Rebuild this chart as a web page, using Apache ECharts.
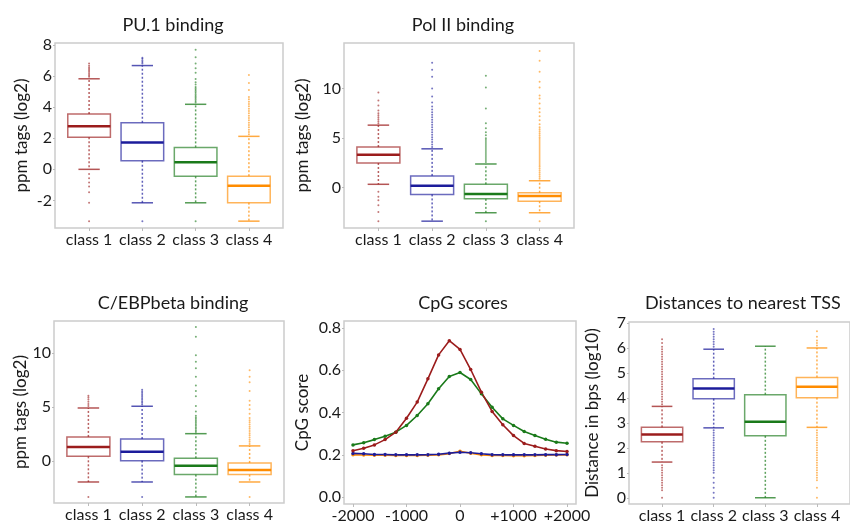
<!DOCTYPE html>
<html>
<head>
<meta charset="utf-8">
<script src="https://cdn.jsdelivr.net/npm/echarts@6/dist/echarts.min.js"></script>
<style>
html, body { margin: 0; padding: 0; background: #fff; }
#main { width: 850px; height: 524px; }
</style>
</head>
<body>
<div id="main"></div>
<script>
var classNames = ['class 1', 'class 2', 'class 3', 'class 4'];
var classColors = ['#9b1c1c', '#1c1c9b', '#1a7a1a', '#ff8c00'];

// box stats per class: [lower whisker, Q1, median, Q3, upper whisker]
var pu1Stats = [
	[0.0, 2.06, 2.77, 3.55, 5.82],
	[-2.15, 0.56, 1.72, 2.99, 6.67],
	[-2.15, -0.45, 0.46, 1.41, 4.18],
	[-3.33, -2.14, -1.06, -0.44, 2.12]
];
var pu1Outliers = [
	[5.95, 6.05, 6.15, 6.25, 6.35, 6.45, 6.55, 6.65, 6.8, -0.3, -0.58, -0.84, -1.1, -1.48, -2.15, -3.33],
	[6.8, 6.9, 7.0, 7.1, 7.18, -3.33],
	[4.3, 4.4, 4.5, 4.6, 4.7, 4.8, 4.9, 5.0, 5.1, 5.2, 5.3, 5.45, 5.6, 5.8, 6.2, 6.5, 6.8, 7.2, 7.68, -3.33],
	[2.25, 2.4, 2.55, 2.7, 2.85, 3.0, 3.15, 3.3, 3.45, 3.6, 3.75, 3.9, 4.05, 4.2, 4.35, 4.5, 4.65, 5.1, 5.55, 6.06]
];

var polStats = [
	[0.34, 2.49, 3.31, 4.1, 6.31],
	[-3.38, -0.68, 0.2, 1.19, 3.92],
	[-2.53, -1.13, -0.65, 0.34, 2.39],
	[-2.53, -1.37, -0.85, -0.51, 0.7]
];
var polOutliers = [
	[6.5, 6.7, 6.9, 7.1, 7.3, 7.5, 7.8, 8.3, 8.8, 9.6, -0.4, -0.92, -1.26, -1.77, -2.46, -3.38],
	[4.1, 4.35, 4.6, 4.85, 5.1, 5.35, 5.6, 5.85, 6.1, 6.35, 6.6, 6.85, 7.1, 7.35, 7.6, 7.9, 8.2, 8.6, 9.2, 10.0, 11.2, 11.9, 12.6],
	[2.6, 2.8, 3.0, 3.2, 3.4, 3.6, 3.8, 4.0, 4.2, 4.4, 4.6, 4.8, 5.0, 5.3, 5.6, 6.0, 6.5, 8.0, 10.1, 11.3, -3.38],
	[0.9, 1.1, 1.3, 1.5, 1.7, 1.9, 2.1, 2.3, 2.5, 2.7, 2.9, 3.1, 3.3, 3.5, 3.7, 3.9, 4.1, 4.3, 4.5, 4.7, 4.9, 5.1, 5.3, 5.5, 5.7, 5.9, 6.1, 6.4,
		6.8, 7.2, 7.6, 8.0, 8.5, 9.0, 9.3, 10.1, 10.7, 11.7, 12.8, 13.8, -3.38]
];

var cebpStats = [
	[-1.91, 0.46, 1.32, 2.25, 4.92],
	[-1.91, 0.06, 0.89, 2.06, 5.08],
	[-3.29, -1.23, -0.4, 0.28, 2.55],
	[-1.91, -1.23, -0.8, -0.15, 1.42]
];
var cebpOutliers = [
	[5.1, 5.3, 5.5, 5.7, 5.9, 6.06, -3.29],
	[5.25, 5.4, 5.55, 5.7, 5.85, 6.0, 6.15, 6.3, 6.45, 6.6, -3.29],
	[2.7, 2.85, 3.0, 3.15, 3.3, 3.45, 3.6, 3.75, 3.9, 4.05, 4.2, 4.6, 5.1, 6.0, 6.5, 7.0, 7.8, 8.6, 9.2, 9.8, 11.5, 12.4],
	[1.6, 1.8, 2.0, 2.2, 2.4, 2.6, 2.8, 3.0, 3.2, 3.4, 3.6, 3.8, 4.0, 4.4, 4.8, 5.2, 5.6, 6.5, 7.3, 7.8, 8.4, -3.29]
];

var tssStats = [
	[1.43, 2.24, 2.53, 2.82, 3.66],
	[2.8, 3.97, 4.38, 4.77, 5.95],
	[0.0, 2.48, 3.04, 4.13, 6.07],
	[2.82, 4.01, 4.45, 4.82, 6.0]
];
var tssOutliers = [
	[3.75, 3.85, 3.95, 4.05, 4.15, 4.25, 4.35, 4.45, 4.55, 4.65, 4.75, 4.85, 4.95, 5.05, 5.15, 5.25, 5.35, 5.45, 5.55, 5.65, 5.75, 5.85, 5.95, 6.05, 6.2, 6.35,
		1.3, 1.2, 1.1, 1.0, 0.9, 0.8, 0.7, 0.6, 0.5, 0.4, 0.3, 0.0],
	[6.05, 6.15, 6.25, 6.35, 6.45, 6.55, 6.65, 6.76,
		2.7, 2.6, 2.5, 2.4, 2.3, 2.2, 2.1, 2.0, 1.9, 1.8, 1.7, 1.6, 1.5, 1.4, 1.3, 1.2, 1.1, 1.0, 0.8, 0.6, 0.4, 0.2, 0.0],
	[],
	[6.1, 6.2, 6.3, 6.45, 6.67,
		2.7, 2.6, 2.5, 2.4, 2.3, 2.2, 2.1, 2.0, 1.9, 1.8, 1.7, 1.6, 1.5, 1.4, 1.3, 1.2, 1.1, 1.0, 0.9, 0.8, 0.7, 0.4, 0.0]
];

// CpG profile around the TSS
var cpgPositions = [-2000, -1800, -1600, -1400, -1200, -1000, -800, -600, -400, -200, 0, 200, 400, 600, 800, 1000, 1200, 1400, 1600, 1800, 2000];
var cpgClass1 = [0.219, 0.231, 0.247, 0.272, 0.307, 0.373, 0.449, 0.559, 0.672, 0.739, 0.698, 0.603, 0.496, 0.405, 0.342, 0.291, 0.254, 0.241, 0.228, 0.22, 0.216];
var cpgClass2 = [0.207, 0.205, 0.202, 0.202, 0.2, 0.2, 0.2, 0.201, 0.203, 0.208, 0.212, 0.21, 0.205, 0.201, 0.2, 0.2, 0.2, 0.2, 0.201, 0.201, 0.202];
var cpgClass3 = [0.247, 0.257, 0.272, 0.288, 0.307, 0.339, 0.386, 0.441, 0.512, 0.57, 0.589, 0.556, 0.488, 0.425, 0.37, 0.339, 0.31, 0.291, 0.274, 0.26, 0.255];
var cpgClass4 = [0.2, 0.199, 0.198, 0.198, 0.197, 0.197, 0.197, 0.198, 0.2, 0.206, 0.217, 0.208, 0.2, 0.197, 0.197, 0.196, 0.196, 0.197, 0.198, 0.199, 0.2];

var FONT = 'Lato';
var TXT = '#1a1a1a';

var chart = echarts.init(document.getElementById('main'), null, { renderer: 'canvas' });

function renderBox(params, api) {
	var x = api.value(0);
	var lo = api.coord([x, api.value(1)]);
	var q1 = api.coord([x, api.value(2)]);
	var med = api.coord([x, api.value(3)]);
	var q3 = api.coord([x, api.value(4)]);
	var hi = api.coord([x, api.value(5)]);
	var boxW = api.size([0.8, 0])[0];
	var capW = api.size([0.4, 0])[0];
	var c = classColors[x - 1];
	var cx = lo[0];
	return {
		type: 'group',
		children: [
			{ type: 'line', shape: { x1: cx, y1: q1[1], x2: cx, y2: lo[1] }, style: { stroke: c, lineWidth: 1.5, lineDash: [2, 2], opacity: 0.7 } },
			{ type: 'line', shape: { x1: cx, y1: q3[1], x2: cx, y2: hi[1] }, style: { stroke: c, lineWidth: 1.5, lineDash: [2, 2], opacity: 0.7 } },
			{ type: 'line', shape: { x1: cx - capW / 2, y1: lo[1], x2: cx + capW / 2, y2: lo[1] }, style: { stroke: c, lineWidth: 1.5, opacity: 0.75 } },
			{ type: 'line', shape: { x1: cx - capW / 2, y1: hi[1], x2: cx + capW / 2, y2: hi[1] }, style: { stroke: c, lineWidth: 1.5, opacity: 0.75 } },
			{ type: 'rect', shape: { x: cx - boxW / 2, y: q3[1], width: boxW, height: q1[1] - q3[1] }, style: { fill: 'none', stroke: c, lineWidth: 1.5, opacity: 0.65 } },
			{ type: 'line', shape: { x1: cx - boxW / 2, y1: med[1], x2: cx + boxW / 2, y2: med[1] }, style: { stroke: c, lineWidth: 2.5 } }
		]
	};
}

function boxData(stats) {
	return stats.map(function(s, i) { return [i + 1].concat(s); });
}

function outlierData(outs) {
	var d = [];
	outs.forEach(function(list, i) {
		list.forEach(function(v) { d.push([i + 1, v]); });
	});
	return d;
}

var grids = [
	{ left: 55, top: 43, width: 228, height: 185 },
	{ left: 344, top: 43, width: 230, height: 185 },
	{ left: 54, top: 321, width: 230, height: 182 },
	{ left: 344, top: 321, width: 232, height: 183 },
	{ left: 629, top: 322, width: 227, height: 182 }
];
grids.forEach(function(g) {
	g.show = true;
	g.borderColor = '#cccccc';
	g.borderWidth = 1.5;
	g.backgroundColor = 'transparent';
});

function classAxis(idx) {
	return {
		type: 'value', gridIndex: idx, min: 0.36, max: 4.64,
		axisLine: { show: false, onZero: false },
		splitLine: { show: false },
		axisTick: { show: true, length: 3, lineStyle: { color: '#bbbbbb' }, customValues: [1, 2, 3, 4] },
		axisLabel: {
			customValues: [1, 2, 3, 4], margin: 4, fontFamily: FONT, fontSize: 16, color: TXT,
			formatter: function(v) { return classNames[v - 1]; }
		}
	};
}

function valueAxis(idx, min, max, ticks, name, gap, fmt) {
	return {
		type: 'value', gridIndex: idx, min: min, max: max,
		name: name, nameLocation: 'middle', nameGap: gap, nameRotate: 90,
		nameTextStyle: { fontFamily: FONT, fontSize: 17, color: TXT },
		axisLine: { show: false, onZero: false },
		splitLine: { show: false },
		axisTick: { show: true, length: 2, lineStyle: { color: '#bbbbbb' }, customValues: ticks },
		axisLabel: { customValues: ticks, margin: 3, fontFamily: FONT, fontSize: 16, color: TXT, formatter: fmt }
	};
}

function titleAt(text, x, y) {
	return { text: text, left: x, top: y, textAlign: 'center', textStyle: { fontFamily: FONT, fontSize: 18, fontWeight: 'normal', color: TXT } };
}

function boxSeries(idx, stats, outs) {
	return [{
		type: 'custom', xAxisIndex: idx, yAxisIndex: idx,
		renderItem: renderBox,
		encode: { x: 0, y: [1, 2, 3, 4, 5] },
		data: boxData(stats)
	}, {
		type: 'scatter', xAxisIndex: idx, yAxisIndex: idx,
		symbolSize: 2,
		itemStyle: { opacity: 0.6, color: function(p) { return classColors[p.value[0] - 1]; } },
		data: outlierData(outs)
	}];
}

function cpgSeries(vals, ci) {
	return {
		type: 'line', xAxisIndex: 3, yAxisIndex: 3,
		data: cpgPositions.map(function(p, i) { return [p, vals[i]]; }),
		symbol: 'circle', symbolSize: 3.5, showSymbol: true,
		lineStyle: { color: classColors[ci], width: 1.6 },
		itemStyle: { color: classColors[ci] }
	};
}

var option = {
	animation: false,
	backgroundColor: '#ffffff',
	title: [
		titleAt('PU.1 binding', 168, 11),
		titleAt('Pol II binding', 458, 11),
		titleAt('C/EBPbeta binding', 168, 289),
		titleAt('CpG scores', 458, 289),
		titleAt('Distances to nearest TSS', 738, 289)
	],
	grid: grids,
	xAxis: [
		classAxis(0),
		classAxis(1),
		classAxis(2),
		{
			type: 'value', gridIndex: 3, min: -2168, max: 2168,
			axisLine: { show: false, onZero: false },
			splitLine: { show: false },
			axisTick: { show: true, length: 3, lineStyle: { color: '#bbbbbb' }, customValues: [-2000, -1000, 0, 1000, 2000] },
			axisLabel: {
				customValues: [-2000, -1000, 0, 1000, 2000], margin: 4, fontFamily: FONT, fontSize: 16, color: TXT,
				formatter: function(v) { return v > 0 ? '+' + v : '' + v; }
			}
		},
		classAxis(4)
	],
	yAxis: [
		valueAxis(0, -3.77, 8.12, [-2, 0, 2, 4, 6, 8], 'ppm tags (log2)', 25),
		valueAxis(1, -4.07, 14.6, [0, 5, 10], 'ppm tags (log2)', 33),
		valueAxis(2, -3.85, 12.95, [0, 5, 10], 'ppm tags (log2)', 25),
		valueAxis(3, -0.032, 0.832, [0, 0.2, 0.4, 0.6, 0.8], 'CpG score', 33, function(v) { return v.toFixed(1); }),
		valueAxis(4, -0.25, 7.04, [0, 1, 2, 3, 4, 5, 6, 7], 'Distance in bps (log10)', 28)
	],
	series: [].concat(
		boxSeries(0, pu1Stats, pu1Outliers),
		boxSeries(1, polStats, polOutliers),
		boxSeries(2, cebpStats, cebpOutliers),
		[cpgSeries(cpgClass4, 3), cpgSeries(cpgClass2, 1), cpgSeries(cpgClass3, 2), cpgSeries(cpgClass1, 0)],
		boxSeries(4, tssStats, tssOutliers)
	)
};

chart.setOption(option);
</script>
</body>
</html>
